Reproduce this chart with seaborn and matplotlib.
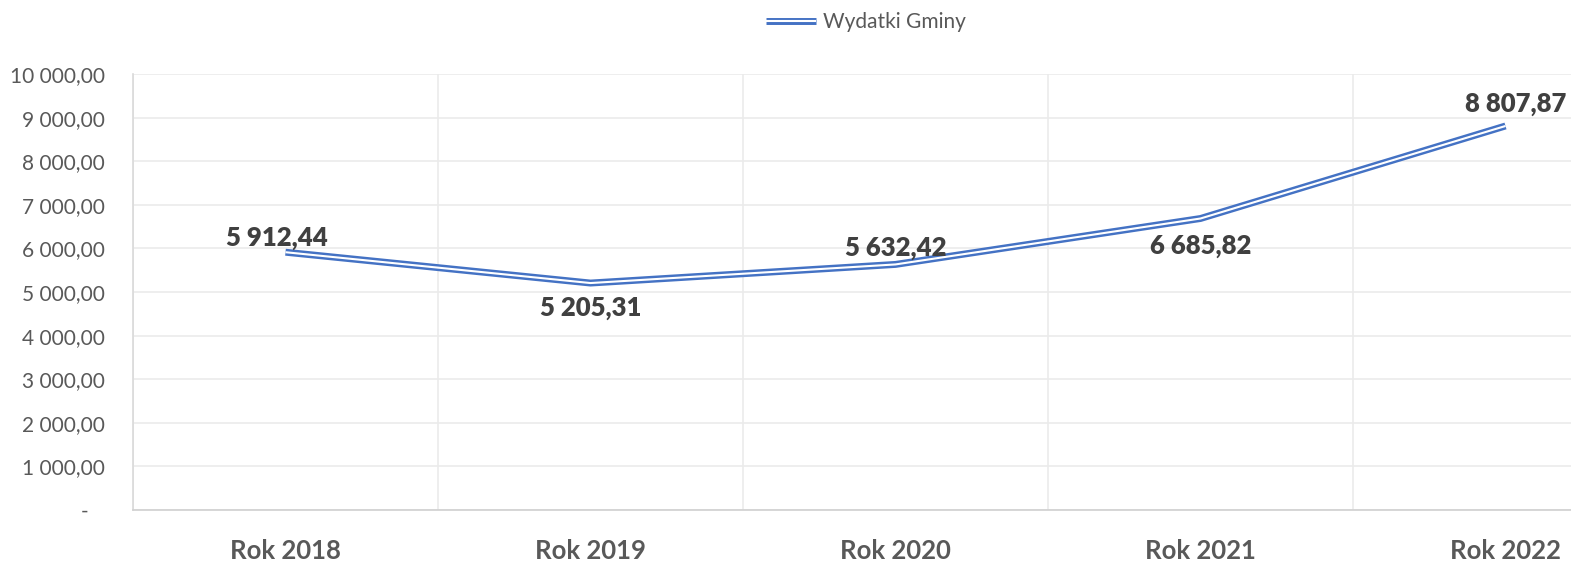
import numpy as np
import pandas as pd
import matplotlib
matplotlib.use("Agg")
import matplotlib.pyplot as plt
import matplotlib.patheffects as pe
from matplotlib.ticker import FuncFormatter, FixedLocator
import seaborn as sns

years = ["Rok 2018", "Rok 2019", "Rok 2020", "Rok 2021", "Rok 2022"]
spending = [5912.44, 5205.31, 5632.42, 6685.82, 8807.87]
series_name = "Wydatki Gminy"

BLUE = "#4472C4"
GRID = "#ebebeb"
TXT = "#595959"
LBL = "#404040"


def pl_format(v, decimals=2):
    s = f"{v:,.{decimals}f}"
    return s.replace(",", " ").replace(".", ",")


sns.set_theme(style="white")
plt.rcParams["font.family"] = ["Lato", "DejaVu Sans"]

df = pd.DataFrame({"year": years, "value": spending, "series": series_name})
df["pos"] = np.arange(len(years))

fig = plt.figure(figsize=(15.71, 5.63), dpi=100)
ax = fig.add_axes([133 / 1571, 53 / 563, 1525 / 1571, 436 / 563])

sns.lineplot(
    data=df, x="pos", y="value", hue="series", palette=[BLUE], ax=ax,
    linewidth=5.0, sort=False, solid_capstyle="butt",
    path_effects=[pe.Stroke(linewidth=5.0, foreground=BLUE, capstyle="butt"),
                  pe.Stroke(linewidth=1.5, foreground="white", capstyle="butt")],
)

ax.set_xlim(-0.5, len(years) - 0.5)
ax.set_ylim(0, 10000)
ax.yaxis.set_major_locator(FixedLocator(np.arange(0, 10001, 1000)))
ax.yaxis.set_major_formatter(FuncFormatter(
    lambda v, p: "-   " if v == 0 else pl_format(v)))
ax.set_xticks(range(len(years)))
ax.set_xticklabels(years, fontsize=18.5, fontweight="bold", color=TXT)
ax.set_xticks(np.arange(-0.5, len(years), 1), minor=True)
ax.tick_params(axis="x", which="both", length=0, pad=21)
ax.tick_params(axis="y", length=0, pad=20, labelsize=15, labelcolor=TXT)

ax.grid(False)
ax.grid(axis="y", which="major", color=GRID, linewidth=1.2)
ax.grid(axis="x", which="minor", color=GRID, linewidth=1.2)
ax.set_axisbelow(True)

for side in ["top", "right"]:
    ax.spines[side].set_visible(False)
ax.spines["left"].set_color("#d9d9d9")
ax.spines["bottom"].set_color("#d0d0d0")
ax.spines["left"].set_linewidth(1.2)
ax.spines["bottom"].set_linewidth(1.2)
ax.set_xlabel("")
ax.set_ylabel("")

# data labels: above / below alternating like the original
offsets = [(-6, 10), (0, -18), (0, 12), (0, -20), (7, 16)]
for i, (v, off) in enumerate(zip(spending, offsets)):
    ax.annotate(pl_format(v), (i, v), xytext=off, textcoords="offset points",
                ha="center", va="center", fontsize=18.5, fontweight="heavy",
                color=LBL, annotation_clip=False)

leg = ax.legend(loc="center", bbox_to_anchor=(866 / 1571, 1 - 22 / 563),
                bbox_transform=fig.transFigure, frameon=False, fontsize=15,
                handlelength=2.4, handletextpad=0.35)
for t in leg.get_texts():
    t.set_color(TXT)

fig.savefig("out.png", dpi=100)
